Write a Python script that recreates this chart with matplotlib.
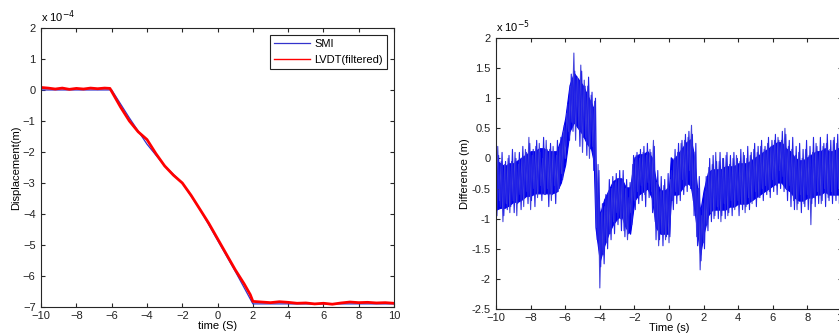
import numpy as np
import matplotlib
matplotlib.use("Agg")
import matplotlib.pyplot as plt

plt.rcParams['font.family'] = ['Liberation Sans', 'DejaVu Sans']
plt.rcParams['font.size'] = 8

# left panel: displacement (x 1e-4 m)
smi_t = [-10, -6, -5, -4, -3, -2, -1, 0, 1, 2, 10]
smi_y = [0.0, 0.0, -0.9, -1.75, -2.45, -3.0, -3.85, -4.85, -5.85, -6.9, -6.9]
lvdt_t = [-10, -9.6, -9.2, -8.8, -8.4, -8, -7.6, -7.2, -6.8, -6.4, -6.1, -5.5, -5, -4.5,
          -4, -3.5, -3, -2.5, -2, -1.5, -1, -0.5, 0, 0.5, 1, 1.5, 1.85, 2.0, 2.5, 3, 3.5,
          4, 4.5, 5, 5.5, 6, 6.5, 7, 7.5, 8, 8.5, 9, 9.5, 10]
lvdt_y = [0.08, 0.06, 0.03, 0.06, 0.02, 0.05, 0.03, 0.06, 0.04, 0.06, 0.05, -0.55, -1.0,
          -1.35, -1.6, -2.05, -2.45, -2.75, -3.0, -3.4, -3.85, -4.3, -4.8, -5.3, -5.8,
          -6.25, -6.6, -6.82, -6.84, -6.86, -6.83, -6.85, -6.88, -6.87, -6.9, -6.88,
          -6.91, -6.87, -6.84, -6.86, -6.85, -6.87, -6.86, -6.88]

# right panel: difference (x 1e-5 m), troughs and peaks every 0.2 s
diff_t = np.round(np.arange(-10, 10.001, 0.2), 1)
diff_lo = [-0.85, -0.7, -1.05, -0.75, -0.9, -0.7, -0.95, -0.6, -0.8, -0.55,
           -0.85, -0.5, -0.65, -0.45, -0.6, -0.5, -0.7, -0.45, -0.55, -0.25,
           0.0, 0.45, 0.6, 0.3, 0.5, 0.1, 0.35, 0.0, 0.2, -1.15,
           -2.15, -1.6, -1.4, -1.25, -1.05, -0.9, -1.0, -1.2, -1.35, -0.9,
           -0.7, -0.55, -0.45, -0.6, -0.4, -0.55, -1.05, -1.45, -1.25, -1.35,
           -1.4, -0.7, -0.55, -0.6, -0.35, -0.45, -0.2, -0.7, -1.3, -1.85,
           -1.4, -1.1, -0.9, -1.0, -0.8, -1.05, -0.75, -0.95, -0.7, -0.85,
           -0.7, -0.75, -0.9, -0.65, -0.75, -0.55, -0.65, -0.5, -0.45, -0.55,
           -0.35, -0.45, -0.2, -0.3, -0.5, -0.45, -0.7, -0.85, -0.6, -0.75,
           -0.6, -1.1, -0.65, -0.55, -0.75, -0.5, -0.65, -0.55, -0.6, -0.5, -0.65]
diff_hi = [0.2, -0.05, -0.1, 0.0, -0.05, 0.1, -0.1, 0.0, 0.15, 0.35,
           0.05, 0.2, 0.25, 0.0, 0.3, 0.15, 0.2, 0.05, 0.2, 0.45,
           0.75, 1.2, 1.75, 1.35, 1.55, 1.3, 1.2, 1.05, 0.95, -0.1,
           -0.9, -0.8, -0.55, -0.5, -0.4, -0.35, -0.35, -0.5, -0.65, -0.1,
           0.05, 0.0, 0.1, 0.05, 0.15, 0.3, -0.4, -0.55, -0.45, -0.5,
           -0.35, 0.0, 0.1, 0.25, 0.3, 0.35, 0.55, 0.1, -0.5, -0.95,
           -0.55, -0.15, -0.1, 0.1, -0.05, 0.0, 0.05, -0.1, 0.0, 0.05,
           -0.05, 0.1, 0.0, 0.05, 0.15, 0.1, 0.2, 0.15, 0.25, 0.2,
           0.3, 0.35, 0.3, 0.5, 0.2, 0.15, 0.05, 0.1, 0.0, 0.15,
           0.05, 0.1, 0.25, 0.1, 0.2, 0.25, 0.15, 0.3, 0.25, 0.3, 0.25]
# second set of smaller spikes, 0.05 s later
diff2_lo = [-0.95, -0.8, -0.95, -0.85, -0.8, -0.9, -0.75, -0.85, -0.65, -0.75,
            -0.7, -0.8, -0.55, -0.7, -0.6, -0.8, -0.6, -0.75, -0.5, -0.35,
            0.2, 0.3, 0.45, 0.55, 0.2, 0.35, 0.05, 0.25, -0.2, -1.35,
            -1.8, -1.75, -1.5, -1.35, -1.25, -1.1, -1.2, -1.3, -1.25, -1.1,
            -0.85, -0.75, -0.7, -0.8, -0.65, -0.9, -1.35, -1.35, -1.45, -1.3,
            -1.3, -0.85, -0.75, -0.7, -0.6, -0.55, -0.5, -0.95, -1.45, -1.7,
            -1.5, -1.2, -1.05, -0.95, -1.0, -0.95, -1.0, -0.9, -0.95, -0.8,
            -0.95, -0.85, -0.8, -0.85, -0.7, -0.8, -0.65, -0.7, -0.6, -0.65,
            -0.55, -0.6, -0.5, -0.55, -0.7, -0.8, -0.85, -0.75, -0.9, -0.8,
            -0.85, -0.75, -0.8, -0.75, -0.7, -0.8, -0.7, -0.75, -0.7, -0.75, -0.7]
diff2_hi = [0.05, 0.1, -0.05, 0.05, 0.15, 0.0, 0.1, 0.2, 0.1, 0.25,
            0.15, 0.3, 0.1, 0.35, 0.15, 0.25, 0.1, 0.3, 0.35, 0.55,
            0.9, 1.4, 1.45, 1.3, 1.45, 1.2, 1.35, 1.1, 1.0, -0.2,
            -0.75, -0.6, -0.35, -0.3, -0.25, -0.2, -0.2, -0.35, -0.4, 0.05,
            0.1, 0.15, 0.2, 0.25, 0.1, 0.2, -0.2, -0.3, -0.35, -0.25,
            -0.2, 0.15, 0.25, 0.3, 0.4, 0.45, 0.4, 0.25, -0.3, -0.75,
            -0.3, 0.0, 0.05, -0.05, 0.1, 0.0, 0.1, 0.05, 0.1, 0.0,
            0.15, 0.05, 0.2, 0.1, 0.25, 0.2, 0.3, 0.2, 0.35, 0.3,
            0.4, 0.3, 0.45, 0.4, 0.3, 0.35, 0.2, 0.25, 0.15, 0.3,
            0.2, 0.35, 0.2, 0.35, 0.25, 0.4, 0.3, 0.35, 0.4, 0.3, 0.35]

# dense core of the noise band, every 0.25 s
core_t = [-10, -9.75, -9.5, -9.25, -9, -8.75, -8.5, -8.25, -8, -7.75, -7.5, -7.25, -7,
          -6.75, -6.5, -6.25, -6, -5.75, -5.5, -5.25, -5, -4.75, -4.5, -4.35, -4.25,
          -4, -3.75, -3.5, -3.25, -3, -2.75, -2.5, -2.25, -2, -1.75, -1.5, -1.25, -1,
          -0.75, -0.5, -0.25, 0, 0.1, 0.25, 0.5, 0.75, 1, 1.25, 1.4, 1.6, 1.8, 2, 2.25,
          2.5, 2.75, 3, 3.25, 3.5, 3.75, 4, 4.25, 4.5, 4.75, 5, 5.25, 5.5, 5.75, 6,
          6.25, 6.5, 6.75, 7, 7.25, 7.5, 7.75, 8, 8.25, 8.5, 8.75, 9, 9.25, 9.5, 9.75, 10]
core_lo = [-0.85, -0.82, -0.82, -0.78, -0.72, -0.72, -0.68, -0.62, -0.62, -0.58, -0.58,
           -0.58, -0.58, -0.58, -0.55, -0.4, -0.1, 0.45, 0.6, 0.5, 0.4, 0.25, 0.15, -0.05,
           -1.15, -1.7, -1.45, -1.25, -1.1, -1.0, -0.95, -1.15, -1.25, -0.7, -0.6, -0.55,
           -0.5, -0.65, -1.15, -1.25, -1.25, -1.25, -0.7, -0.6, -0.6, -0.5, -0.4, -0.45,
           -0.7, -1.15, -1.6, -1.25, -0.95, -0.85, -0.85, -0.85, -0.85, -0.8, -0.8, -0.75,
           -0.75, -0.75, -0.7, -0.65, -0.6, -0.55, -0.5, -0.45, -0.4, -0.4, -0.5, -0.55,
           -0.65, -0.7, -0.7, -0.65, -0.65, -0.6, -0.6, -0.55, -0.6, -0.6, -0.6, -0.6]
core_hi = [-0.03, -0.08, -0.13, -0.08, -0.08, -0.03, 0.02, 0.07, 0.12, 0.12, 0.17, 0.17,
           0.12, 0.12, 0.12, 0.32, 0.67, 1.22, 1.42, 1.32, 1.22, 1.07, 0.92, 0.82, -0.28,
           -0.93, -0.68, -0.53, -0.38, -0.33, -0.33, -0.48, -0.48, 0.02, 0.07, 0.07, 0.12,
           0.02, -0.38, -0.53, -0.53, -0.48, 0.02, -0.03, 0.07, 0.17, 0.27, 0.32, 0.12,
           -0.43, -0.88, -0.53, -0.23, -0.18, -0.18, -0.18, -0.13, -0.13, -0.13, -0.08,
           -0.08, -0.08, -0.03, 0.02, 0.07, 0.12, 0.17, 0.22, 0.27, 0.27, 0.17, 0.12, 0.02,
           -0.03, -0.03, 0.02, 0.07, 0.12, 0.12, 0.17, 0.12, 0.12, 0.17, 0.17]

# zigzags: trough at t, peak half a step later
zz_t = np.ravel(np.column_stack([diff_t, diff_t + 0.1]))[:-1]
zz_y = np.ravel(np.column_stack([diff_lo, diff_hi]))[:-1]
zz2_t = np.ravel(np.column_stack([diff_t + 0.05, diff_t + 0.15]))[:-2]
zz2_y = np.ravel(np.column_stack([diff2_lo, diff2_hi]))[:-2]

fig = plt.figure(figsize=(8.39, 3.35), dpi=100)
axc = '#262626'


def matlab_axes(ax):
    for s in ax.spines.values():
        s.set_color(axc)
        s.set_linewidth(0.8)
    ax.tick_params(direction='in', top=True, right=True, length=3,
                   color=axc, labelcolor='#222222')
    ax.tick_params(axis='x', pad=3)
    ax.tick_params(axis='y', pad=4)


ax1 = fig.add_axes([0.049, 0.0836, 0.4207, 0.833])
ax1.plot(smi_t, smi_y, color='#3333cc', lw=0.9, label='SMI')
ax1.plot(lvdt_t, lvdt_y, color='#ff0000', lw=2.0, label='LVDT(filtered)')
ax1.set_xlim(-10, 10)
ax1.set_ylim(-7, 2)
ax1.set_xticks(range(-10, 11, 2))
ax1.set_yticks(range(-7, 3))
ax1.set_xlabel('time (S)', labelpad=0)
ax1.set_ylabel('Displacement(m)', labelpad=1)
ax1.text(0.0, 1.012, r'x 10$^{-4}$', transform=ax1.transAxes, ha='left', va='bottom')
leg = ax1.legend(loc='upper right', fancybox=False, framealpha=1, edgecolor='#222222',
                 handlelength=3.2, handletextpad=0.4, borderaxespad=0.6,
                 labelspacing=0.5, fontsize=8)
leg.get_frame().set_linewidth(0.8)
leg.get_lines()[1].set_linewidth(1.0)
matlab_axes(ax1)

ax2 = fig.add_axes([0.5912, 0.0776, 0.4124, 0.809])
ax2.plot(zz_t, zz_y, color='#4444dd', lw=0.8)
ax2.plot(zz2_t, zz2_y, color='#2222e6', lw=0.8)
ax2.fill_between(core_t, core_lo, core_hi, color='#0000ee', lw=0.8, edgecolor='#0000ee')
ax2.set_xlim(-10, 10)
ax2.set_ylim(-2.5, 2)
ax2.set_xticks(range(-10, 11, 2))
ax2.set_yticks(np.arange(-2.5, 2.01, 0.5))
ax2.set_yticklabels(['-2.5', '-2', '-1.5', '-1', '-0.5', '0', '0.5', '1', '1.5', '2'])
ax2.set_xlabel('Time (s)', labelpad=0)
ax2.set_ylabel('Difference (m)', labelpad=1)
ax2.text(0.0, 1.012, r'x 10$^{-5}$', transform=ax2.transAxes, ha='left', va='bottom')
matlab_axes(ax2)

fig.savefig('out.png', dpi=100)
